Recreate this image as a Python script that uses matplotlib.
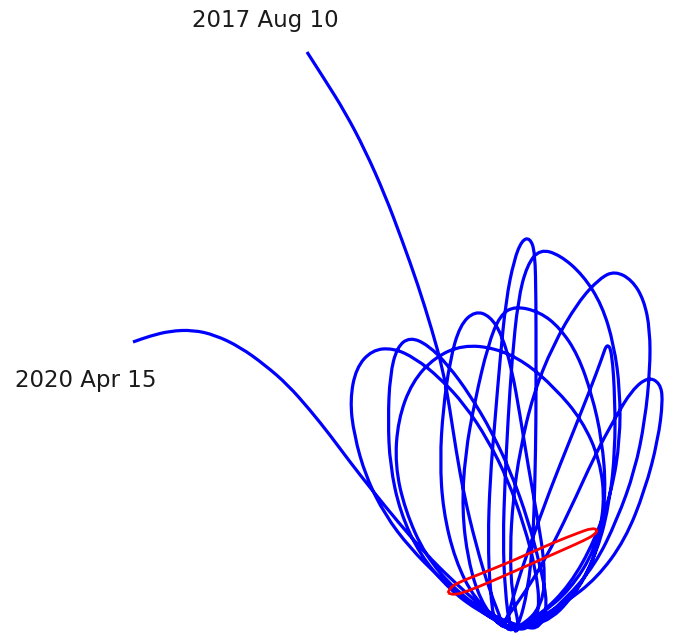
import numpy as np
import matplotlib
matplotlib.use("Agg")
import matplotlib.pyplot as plt
from matplotlib.path import Path
from matplotlib.patches import PathPatch

# trajectory traced in the rotating frame, x/y in plot units (y grows downward)
arrival = [(307, 52), (325, 80), (345, 112), (365, 150), (385, 195), (402, 240),
           (418, 285), (432, 330), (443, 370), (450, 410), (456, 450), (464, 495),
           (476, 545), (490, 592), (503, 624)]

loop1 = [(497, 622), (470, 603), (440, 578), (410, 548), (385, 515), (366, 477),
         (354, 435), (350, 400), (356, 368), (372, 350), (393, 348), (415, 358),
         (440, 378), (465, 405), (488, 440), (508, 480), (524, 525), (536, 570),
         (540, 610), (530, 628)]
loop2 = [(515, 630), (480, 612), (450, 590), (420, 555), (400, 512), (390, 465),
         (388, 420), (390, 375), (397, 347), (410, 337), (428, 345), (448, 365),
         (470, 395), (492, 432), (512, 475), (528, 520), (540, 565), (548, 605),
         (540, 628)]
loop3 = [(525, 628), (490, 615), (455, 590), (425, 555), (405, 510), (395, 465),
         (398, 420), (412, 382), (435, 357), (463, 345), (495, 348), (525, 362),
         (555, 388), (582, 420), (600, 460), (605, 505), (595, 550), (570, 590),
         (540, 615), (515, 630)]
loop4 = [(505, 625), (475, 600), (455, 560), (443, 510), (440, 460), (443, 410),
         (450, 360), (460, 325), (475, 311), (490, 316), (502, 335), (512, 370),
         (520, 415), (528, 465), (537, 515), (545, 565), (543, 605), (520, 628)]
loop5 = [(500, 628), (480, 600), (468, 560), (462, 510), (465, 455), (475, 400),
         (488, 345), (500, 315), (515, 306), (540, 312), (560, 328), (578, 355),
         (592, 395), (602, 440), (606, 490), (600, 540), (585, 580), (560, 610),
         (530, 628)]
loop6 = [(495, 628), (490, 590), (488, 540), (490, 480), (495, 420), (500, 360),
         (506, 300), (514, 260), (522, 240), (530, 238), (535, 252), (536, 300),
         (536, 360), (536, 420), (535, 480), (533, 540), (528, 590), (518, 628)]
loop7 = [(510, 630), (505, 590), (503, 540), (505, 480), (508, 420), (512, 360),
         (518, 300), (527, 265), (540, 249), (560, 255), (583, 275), (602, 305),
         (614, 345), (620, 390), (620, 440), (612, 490), (595, 540), (570, 585),
         (540, 615), (512, 632)]
loop8 = [(520, 630), (512, 595), (510, 550), (513, 500), (520, 450), (533, 395),
         (553, 345), (578, 302), (600, 278), (615, 271), (632, 280), (644, 300),
         (650, 330), (650, 370), (645, 420), (635, 470), (617, 520), (595, 565),
         (565, 600), (535, 625)]
loop9 = [(505, 628), (515, 590), (530, 545), (550, 490), (570, 440), (590, 390),
         (602, 358), (607, 343), (612, 352), (615, 400), (615, 450), (610, 500),
         (598, 550), (575, 595), (545, 625)]
loop10 = [(497, 630), (520, 600), (545, 560), (570, 510), (595, 455), (615, 418),
          (632, 390), (648, 377), (660, 383), (663, 400), (658, 440), (645, 490),
          (625, 540), (597, 578), (565, 603), (535, 620), (510, 632)]

departure = [(505, 625), (480, 605), (452, 580), (425, 553), (398, 522), (372, 490),
             (350, 462), (330, 435), (310, 410), (288, 385), (265, 365), (240, 347),
             (215, 335), (193, 330), (170, 331), (150, 336), (133, 342)]

# small red orbit near the bottom of the tangle
red_orbit = [(448, 593), (450, 587), (462, 581), (480, 574), (505, 564), (530, 553),
             (555, 542), (578, 533), (592, 528), (598, 530), (594, 535), (585, 540),
             (565, 549), (540, 560), (515, 571), (490, 582), (468, 591), (455, 595),
             (448, 593)]

start_label = "2017 Aug 10"
end_label = "2020 Apr 15"


def smooth_path(pts):
    # quadratic bezier through the midpoints, using the traced points as controls
    pts = np.asarray(pts, dtype=float)
    verts = [pts[0]]
    codes = [Path.MOVETO]
    for i in range(1, len(pts) - 1):
        verts += [pts[i], (pts[i] + pts[i + 1]) / 2]
        codes += [Path.CURVE3, Path.CURVE3]
    verts.append(pts[-1])
    codes.append(Path.LINETO)
    return Path(verts, codes)


track = arrival + loop1 + loop2 + loop3 + loop4 + loop5 + loop6 + loop7 + loop8 \
    + loop9 + loop10 + departure

fig = plt.figure(figsize=(6.73, 6.35), dpi=100)
ax = fig.add_axes([0, 0, 1, 1])
ax.add_patch(PathPatch(smooth_path(track), fill=False, edgecolor="blue", lw=2.3,
                       joinstyle="round", capstyle="butt"))
ax.add_patch(PathPatch(smooth_path(red_orbit), fill=False, edgecolor="red", lw=2.0,
                       joinstyle="round"))

ax.text(265, 20, start_label, fontsize=16.5, ha="center", va="center", color="#1a1a1a")
ax.text(86, 381, end_label, fontsize=16.5, ha="center", va="center", color="#1a1a1a")

ax.set_xlim(0, 673)
ax.set_ylim(635, 0)
ax.axis("off")
fig.savefig("out.png", dpi=100)
